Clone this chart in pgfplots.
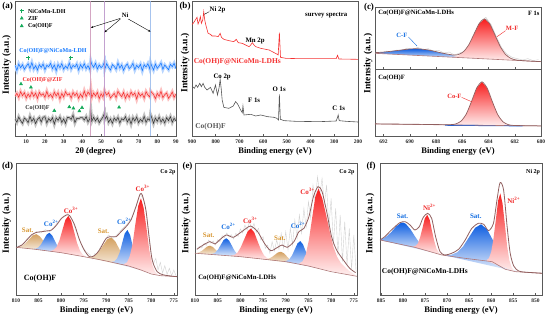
\documentclass[border=0pt]{standalone}
\usepackage{fontspec}
\setmainfont{Liberation Serif}
\usepackage{pgfplots}
\pgfplotsset{compat=1.18}
\usetikzlibrary{arrows.meta}
\definecolor{cred}{RGB}{248,30,30}
\definecolor{cblue}{RGB}{15,95,225}
\definecolor{ctan}{RGB}{212,160,95}
\definecolor{env}{RGB}{145,95,95}
\definecolor{bgl}{RGB}{175,120,120}
\definecolor{cgreen}{RGB}{20,170,90}
\definecolor{xblue}{RGB}{20,120,255}
\definecolor{xred}{RGB}{245,50,50}
\definecolor{xblk}{RGB}{55,55,55}
\definecolor{tred}{RGB}{240,40,40}
\definecolor{tblue}{RGB}{20,110,225}
\definecolor{ttan}{RGB}{215,150,50}
\definecolor{nia}{RGB}{205,150,185}
\definecolor{nib}{RGB}{185,145,200}
\definecolor{nic}{RGB}{150,185,235}
\pgfplotsset{
 panel/.style={
  scale only axis,
  axis line style={black!65, line width=0.6pt},
  tick style={black!65, line width=0.5pt},
  major tick length=2.2pt,
  tick align=inside,
  ytick=\empty,
  xtick pos=left,
  tick label style={font=\bfseries\fontsize{5.5}{6}\selectfont, text=black!85},
  /pgf/number format/assume math mode=true,
  /pgf/number format/1000 sep={},
  xlabel style={at={(axis description cs:0.5,0)}, anchor=north, yshift=-11pt, inner sep=0pt, font=\bfseries\fontsize{8.5}{9}\selectfont},
 },
 rev/.style={x dir=reverse},
}
\tikzset{
 ylab/.style={rotate=90, inner sep=0pt, font=\bfseries\fontsize{9.5}{10}\selectfont},
 plab/.style={inner sep=0pt, font=\bfseries\fontsize{9}{10}\selectfont},
 lb/.style={inner sep=0pt, font=\bfseries\fontsize{7}{8}\selectfont},
 sl/.style={inner sep=0pt, font=\bfseries\fontsize{6}{7}\selectfont},
}
\begin{document}
\begin{tikzpicture}[x=1pt,y=1pt]
\path[use as bounding box] (0,0) rectangle (550,321);

% ---------------- (a) XRD
\begin{axis}[panel, at={(15pt,185pt)}, anchor=south west, width=161pt, height=135pt,
 xmin=4, xmax=90, ymin=0, ymax=405, xtick={10,20,...,90}, xlabel={2θ (degree)}]
\addplot[xblk, line width=0.55pt, preaction={draw, xblk!30, line width=3.2pt}] coordinates {
(4,51)(5,41)(6,57)(7,46)(8,38)(9,54)(10,49)(11,40)(12,59)(13,44)(14,53)(15,37)(16,50)(17,56)(18,42)(19,56)(20,58)(21,39)(22,52)(23,45)(24,55)(25,36)(26,54)(27,47)(28,57)(29,41)(30,51)(31,38)(32,56)(33,55)(34,50)(35,63)(36,40)(37,53)(38,52)(39,55)(40,55)(41,48)(42,58)(43,42)(44,52)(44.5,75)(45,44)(46,56)(47,45)(48,54)(49,40)(50,49)(51,57)(51.8,68)(52,50)(53,60)(54,41)(55,51)(56,38)(57,54)(58,46)(59,56)(60,39)(61,52)(62,48)(63,58)(64,42)(65,53)(66,36)(67,55)(68,45)(69,57)(70,40)(71,50)(72,43)(73,59)(74,41)(75,52)(76,47)(76.4,64)(77,56)(78,38)(79,54)(80,44)(81,57)(82,42)(83,51)(84,39)(85,55)(86,46)(87,58)(88,41)(89,53)(90,45)};
\addplot[xred, line width=0.55pt, preaction={draw, xred!30, line width=3.2pt}] coordinates {
(4,120)(5,128)(6,116)(7,133)(8,121)(9,130)(10,114)(11,126)(12,117)(13,132)(14,119)(15,129)(16,113)(17,131)(18,122)(19,127)(20,116)(21,134)(22,118)(23,125)(24,115)(25,132)(26,120)(27,130)(28,111)(29,128)(30,117)(31,133)(32,123)(33,127)(34,114)(35,131)(36,121)(37,129)(38,113)(39,126)(40,116)(41,135)(42,118)(43,132)(44,124)(44.5,140)(45,115)(46,129)(47,120)(48,131)(49,112)(50,127)(51,117)(51.8,136)(52,133)(53,123)(54,130)(55,114)(56,121)(57,128)(58,115)(59,134)(60,125)(61,118)(62,131)(63,113)(64,126)(65,116)(66,132)(67,122)(68,129)(69,111)(70,130)(71,120)(72,127)(73,114)(74,133)(75,123)(76,117)(76.4,135)(77,131)(78,125)(79,112)(80,128)(81,119)(82,134)(83,115)(84,124)(85,129)(86,113)(87,121)(88,132)(89,116)(90,126)};
\addplot[xblue, line width=0.55pt, preaction={draw, xblue!30, line width=3.2pt}] coordinates {
(4,212)(5,197)(6,216)(7,205)(8,214)(9,200)(10,209)(11,217)(12,203)(13,220)(14,201)(15,211)(16,198)(17,214)(18,206)(19,216)(20,199)(21,212)(22,208)(23,218)(24,202)(25,213)(26,196)(27,215)(28,205)(29,217)(30,200)(31,210)(32,203)(33,219)(34,201)(35,212)(36,207)(37,216)(38,198)(39,214)(40,204)(41,217)(42,202)(43,211)(44,199)(44.5,225)(45,215)(46,206)(47,218)(48,201)(49,213)(50,205)(51,211)(51.8,222)(52,201)(53,217)(54,206)(55,198)(56,214)(57,209)(58,200)(59,219)(60,204)(61,213)(62,197)(63,210)(64,216)(65,202)(66,208)(67,218)(68,199)(69,212)(70,205)(71,215)(72,196)(73,214)(74,207)(75,217)(76,201)(76.4,220)(77,211)(78,198)(79,216)(80,203)(81,210)(82,219)(83,200)(84,213)(85,206)(86,199)(87,215)(88,208)(89,218)(90,202)};
\addplot[nia, line width=1.3pt, opacity=0.85] coordinates {(44.5,0)(44.5,405)};
\addplot[nib, line width=1.3pt, opacity=0.85] coordinates {(51.8,0)(51.8,405)};
\addplot[nic, line width=1.3pt, opacity=0.85] coordinates {(76.4,0)(76.4,405)};
\addplot[only marks, mark=+, mark size=2pt, cgreen, line width=1pt] coordinates {(11.1,235)(33.9,235)(7.6,375)};
\addplot[only marks, mark=triangle*, mark size=1.8pt, cgreen] coordinates {(7.2,156)(12.5,146)(25,76)(33,87)(35.2,83)(38.4,75)(39.8,85)(59.6,86)(7.6,353)(7.6,330)};
\node[sl, anchor=west] at (axis cs:10.9,375) {NiCoMn-LDH};
\node[sl, anchor=west] at (axis cs:10.9,353) {ZIF};
\node[sl, anchor=west] at (axis cs:10.9,330) {Co(OH)F};
\node[sl, text=xblue] at (axis cs:24.3,256) {Co(OH)F@NiCoMn-LDH};
\node[sl, text=xred] at (axis cs:18.7,167) {Co(OH)F@ZIF};
\node[sl, text=xblk] at (axis cs:16,83) {Co(OH)F};
\node[sl, font=\bfseries\fontsize{6.5}{7}\selectfont] at (axis cs:62.8,362) {Ni};
\draw[-{Stealth[length=2.5pt,width=2pt]}, line width=0.4pt] (axis cs:60.3,353) -- (axis cs:44.5,325);
\draw[-{Stealth[length=2.5pt,width=2pt]}, line width=0.4pt] (axis cs:60.3,351) -- (axis cs:51.8,311);
\draw[-{Stealth[length=2.5pt,width=2pt]}, line width=0.4pt] (axis cs:64.5,351) -- (axis cs:76.4,313);
\end{axis}

% ---------------- (b) survey
\begin{axis}[panel, rev, at={(192pt,185pt)}, anchor=south west, width=166pt, height=135pt,
 xmin=200, xmax=900, ymin=0, ymax=405, xtick={200,300,...,900}, xlabel={Binding energy (eV)}]
\addplot[xred, line width=0.6pt] coordinates {
(900,335)(892.9,340)(885.9,348)(878.8,356)(874.5,336)(868.9,346)(864.7,358)(860.4,338)(854.7,348)(850.5,373)(846.3,348)(840.6,330)(832.1,308)(822.2,305)(815.2,300)(801,300)(789.7,298)(781.2,308)(775.6,296)(765.7,290)(744.5,286)(723.3,283)(713.3,290)(704.9,280)(687.9,278)(673.8,273)(659.6,268)(652.5,273)(645.5,280)(638.4,273)(631.3,268)(610.1,263)(574.8,258)(553.6,250)(542.3,246)(536.6,243)(531.5,310)(526.7,236)(504.1,233)(447.5,232)(291.9,232)(286.3,242)(280.7,231)(200,230)};
\addplot[xblk!85, line width=0.6pt] coordinates {
(900,150)(890.1,143)(883,153)(876,146)(867.5,158)(860.4,148)(853.3,158)(846.3,146)(836.4,138)(822.2,146)(810.9,128)(801,153)(792.5,123)(785.5,146)(781.2,170)(777,143)(772.7,108)(765.7,86)(744.5,83)(726.1,90)(716.2,103)(707.7,96)(694.9,78)(687.9,70)(685.1,90)(680.8,63)(652.5,65)(631.3,60)(610.1,63)(581.9,58)(553.6,56)(542.3,53)(535.2,48)(531.5,125)(527.5,50)(511.1,46)(461.7,44)(362.7,43)(291.9,45)(286.3,56)(283.5,63)(279.2,46)(249.6,44)(200,42)};
\node[sl, font=\bfseries\fontsize{6.8}{7}\selectfont, anchor=west] at (axis cs:826,377) {Ni 2p};
\draw[line width=0.4pt] (axis cs:827,373) -- (axis cs:848,365);
\node[sl, font=\bfseries\fontsize{6.8}{7}\selectfont] at (axis cs:334,363) {survey spectra};
\node[sl, font=\bfseries\fontsize{6.8}{7}\selectfont] at (axis cs:634,286) {Mn 2p};
\node[sl, font=\bfseries\fontsize{7.5}{8}\selectfont, text=xred] at (axis cs:709,223) {Co(OH)F@NiCoMn-LDHs};
\node[sl, font=\bfseries\fontsize{6.8}{7}\selectfont] at (axis cs:773,176) {Co 2p};
\node[sl, font=\bfseries\fontsize{6.8}{7}\selectfont] at (axis cs:638,108) {F 1s};
\node[sl, font=\bfseries\fontsize{6.8}{7}\selectfont] at (axis cs:532,141) {O 1s};
\node[sl, font=\bfseries\fontsize{6.8}{7}\selectfont] at (axis cs:281,83) {C 1s};
\node[sl, font=\bfseries\fontsize{7.5}{8}\selectfont, text=black!65] at (axis cs:822,28) {Co(OH)F};
\end{axis}

% ---------------- (c) F 1s, top
\begin{axis}[panel, rev, at={(375pt,252pt)}, anchor=south west, width=166pt, height=62pt,
 xmin=680, xmax=692.65, ymin=201, ymax=387, xtick={680,682,...,692}, xticklabels={}]
\addplot[gray!40, line width=0.4pt] coordinates {(692.6,252)(692.2,249)(691.8,255)(691.4,252)(691,258)(690.6,256)(690.2,264)(689.8,258)(689.4,266)(689,259)(688.6,262)(688.2,255)(687.8,257)(687.4,249)(687,252)(686.6,243)(686.2,249)(685.8,254)(685.4,274)(685,312)(684.6,345)(684.2,356)(683.8,334)(683.4,298)(683,265)(682.6,246)(682.2,236)(681.8,232)(681.4,228)(681,232)(680.6,226)(680.2,229)};
\addplot[draw=none, top color=cblue, bottom color=cblue!10] coordinates {(692.6,248)(692.6,250.4)(692,251.6)(691,256.2)(690,261)(689.3,261.4)(688.5,257.4)(687.5,248.5)(686.5,240.2)(685.5,235.1)(684.5,232.1)(684.5,231.9)} --cycle;
\addplot[draw=none, top color=cred, bottom color=cred!8] coordinates {(681.5,226.0)(681.5,226.3)(681.9,228.1)(682.3,232.8)(682.7,244.5)(683.1,267.9)(683.5,302.4)(683.9,336.2)(684.3,351)(684.7,337.8)(685.1,305.6)(685.5,272.7)(685.9,250.9)(686.3,240.7)(686.7,237.6)(687.1,237.4)(687.1,237.1)} --cycle;
\addplot[bgl, line width=0.6pt] coordinates {(692.65,248)(680,223)};
\addplot[env, line width=0.7pt, smooth, tension=0.4] coordinates {(692.6,250.4)(692,251.6)(691,256.2)(690,261)(689.3,261.4)(688.5,257.4)(687.5,248.5)(686.7,242.9)(686.3,244.1)(685.9,253)(685.5,273.9)(685.1,306.3)(684.7,338.1)(684.3,351.2)(683.9,336.2)(683.5,302.4)(683.1,267.9)(682.7,244.5)(682.3,232.8)(681.9,228.1)(681.5,226.3)(681,225)(680,223)};
\node[sl, font=\bfseries\fontsize{6.5}{7}\selectfont, anchor=west] at (axis cs:692.4,368) {Co(OH)F@NiCoMn-LDHs};
\node[sl, font=\bfseries\fontsize{6.5}{7}\selectfont, anchor=east] at (axis cs:680.1,368) {F 1s};
\node[sl, font=\bfseries\fontsize{6.5}{7}\selectfont, text=tblue] at (axis cs:690.6,303) {C-F};
\draw[tblue, line width=0.4pt] (axis cs:690.1,297) -- (axis cs:689.45,270);
\node[sl, font=\bfseries\fontsize{6.5}{7}\selectfont, text=tred] at (axis cs:682.2,323) {M-F};
\draw[tred, line width=0.4pt] (axis cs:682.7,316) -- (axis cs:683.35,298);
\end{axis}

% ---------------- (c) F 1s, bottom
\begin{axis}[panel, rev, at={(375pt,185pt)}, anchor=south west, width=166pt, height=67pt,
 xmin=680, xmax=692.65, ymin=0, ymax=201, xtick={680,682,...,692}, xlabel={Binding energy (eV)}]
\addplot[draw=none, top color=cred, bottom color=cred!8] coordinates {(682.1,31.0)(682.1,31.5)(682.5,34)(682.9,42.5)(683.3,64.1)(683.7,102.1)(684.1,143.4)(684.5,162.1)(684.9,143.7)(685.3,102.8)(685.7,65.2)(686.1,44)(686.5,35.9)(686.9,33.8)(686.9,33.3)} --cycle;
\addplot[cblue, line width=1pt] coordinates {(687.3,32.3)(681.4,30.4)};
\addplot[bgl, line width=0.6pt] coordinates {(692.65,36)(680,30)};
\addplot[env, line width=0.7pt, smooth, tension=0.4] coordinates {(692.65,36.5)(690,35.3)(688,34.3)(686.9,34)(686.5,36.2)(686.1,44.3)(685.7,65.5)(685.3,103)(684.9,144)(684.5,162.5)(684.1,143.6)(683.7,102.3)(683.3,64.3)(682.9,42.7)(682.5,34.2)(682.1,31.7)(681,30.8)(680,30.3)};
\node[sl, font=\bfseries\fontsize{6.5}{7}\selectfont, anchor=west] at (axis cs:692.4,175) {Co(OH)F};
\node[sl, font=\bfseries\fontsize{6.5}{7}\selectfont, text=tred] at (axis cs:686.6,118) {Co-F};
\draw[tred, line width=0.4pt] (axis cs:686.05,116) -- (axis cs:685.3,103);
\end{axis}

% ---------------- (d) Co 2p Co(OH)F
\begin{axis}[panel, rev, at={(16pt,26pt)}, anchor=south west, width=161pt, height=132pt,
 xmin=774.3, xmax=810, ymin=0, ymax=396, xtick={775,780,...,810}, xlabel={Binding energy (eV)}]
\addplot[gray!35, line width=0.4pt] coordinates {(809.5,147)(808.5,150)(807.5,170)(806.5,178)(805.5,190)(804.5,186)(803.5,196)(802.5,190)(801.5,205)(800.5,222)(799.5,236)(798.5,244)(797.5,226)(796.5,185)(795.5,152)(794.5,130)(793.5,120)(793,108)(792.5,125)(792,112)(791.5,138)(790.5,160)(789.5,180)(788.5,170)(787.5,182)(786.5,198)(785.5,210)(784.5,228)(783.5,262)(782.5,305)(781.5,280)(781,240)(780.5,180)(780,120)(779.5,95)(779,110)(778.5,75)(778,98)(777.5,66)(777,88)(776.5,62)(776,80)(775.5,58)(775,75)(774.5,57)};
\addplot[draw=none, top color=ctan, bottom color=ctan!12] coordinates {(809.5,142.3)(809.5,144.3)(808.7,147.4)(807.9,155.0)(807.1,166.9)(806.3,178.5)(805.5,182.6)(804.7,175.8)(803.9,161.7)(803.1,147.3)(802.3,137.2)(801.5,131.6)(801.5,129.6)} --cycle;
\addplot[draw=none, top color=cblue, bottom color=cblue!10] coordinates {(806.2,137.8)(806.2,138.4)(805.6,139.2)(805.0,143.2)(804.4,152.6)(803.8,167.1)(803.2,181.1)(802.6,186.6)(802.0,179.0)(801.4,162.9)(800.8,146.3)(800.2,134.8)(799.6,128.4)(799.0,125.2)(799.0,124.6)} --cycle;
\addplot[draw=none, top color=cred, bottom color=cred!8] coordinates {(802.3,131.0)(802.3,132.3)(801.65,134.9)(801.0,144.2)(800.35,164.6)(799.7,195.4)(799.05,225.3)(798.4,237.2)(797.75,222.2)(797.1,189.1)(796.45,155.5)(795.8,132.3)(795.15,120.4)(794.5,115.1)(794.5,113.8)} --cycle;
\addplot[draw=none, top color=ctan, bottom color=ctan!12] coordinates {(794.3,113.3)(794.3,114.1)(793.4,114.2)(792.5,118.8)(791.6,130.4)(790.7,148.8)(789.8,166.7)(788.9,172.7)(788.0,161.3)(787.1,138.2)(786.2,114.6)(785.3,97.9)(784.4,87.5)(783.5,81.1)(783.5,80.3)} --cycle;
\addplot[draw=none, top color=cblue, bottom color=cblue!10] coordinates {(788.75,98.3)(788.75,99.5)(788.15,101.2)(787.6,109.3)(787.0,127.7)(786.45,156.3)(785.9,184.1)(785.3,194.9)(784.7,180.1)(784.15,148.2)(783.6,115.5)(783.0,92.6)(782.45,80.4)(781.85,73.9)(781.85,72.7)} --cycle;
\addplot[draw=none, top color=cred, bottom color=cred!8] coordinates {(786.05,90.1)(786.05,92.5)(785.4,97.6)(784.8,115.2)(784.15,153.1)(783.55,211.0)(782.9,267.4)(782.3,290.0)(781.7,261.6)(781.05,198.9)(780.45,135.1)(779.8,91.6)(779.2,70.4)(778.55,61.8)(778.55,59.4)} --cycle;
\addplot[bgl, line width=0.6pt] coordinates {(810,143)(806,137.5)(800,127)(795,115)(792,107.5)(790,102)(785,87)(782.3,75)(780,63)(778,58)(774.3,55)};
\addplot[env, line width=0.8pt, smooth, tension=0.45] coordinates {(809.8,143)(808.7,150)(807.6,165)(806.5,181)(805.4,188)(804.3,190)(803.2,192)(802.1,195)(801,210)(799.9,230)(798.8,240)(798.1,238)(797,210)(795.9,165)(794.8,133)(793.7,115)(792.6,118)(791.5,135)(790,170)(788.9,175)(787.8,175)(786.7,190)(785.6,205)(784.5,225)(783.4,265)(782.5,302)(782,300)(781.2,255)(780.5,175)(779.8,105)(778.7,70)(777.2,60)(774.3,55)};
\node[lb, text=ttan] at (axis cs:807.4,195) {Sat.};
\node[lb, text=tblue] at (axis cs:802.2,215) {Co\textsuperscript{2+}};
\node[lb, text=tred] at (axis cs:797.8,255) {Co\textsuperscript{3+}};
\node[lb, text=ttan] at (axis cs:790.6,190) {Sat.};
\node[lb, text=tblue] at (axis cs:786.0,222) {Co\textsuperscript{2+}};
\node[lb, text=tred] at (axis cs:781.9,320) {Co\textsuperscript{3+}};
\node[sl, anchor=east] at (axis cs:774.6,370) {Co 2p};
\node[sl, font=\bfseries\fontsize{8}{9}\selectfont, anchor=west] at (axis cs:808.3,50) {Co(OH)F};
\end{axis}

% ---------------- (e) Co 2p composite
\begin{axis}[panel, rev, at={(195pt,26pt)}, anchor=south west, width=162pt, height=132pt,
 xmin=774.3, xmax=810, ymin=0, ymax=396, xtick={775,780,...,810}, xlabel={Binding energy (eV)}]
\addplot[gray!35, line width=0.4pt] coordinates {(809.5,140)(809,146)(808.5,141)(808,155)(807.5,149)(807,165)(806.5,155)(806,162)(805.5,150)(805,166)(804.5,160)(804,178)(803.5,172)(803,186)(802.5,174)(802,181)(801.5,168)(801,185)(800.5,176)(800,198)(799.5,186)(799,210)(798.5,195)(798,220)(797.5,196)(797,215)(796.5,188)(796,200)(795.5,165)(795,175)(794.5,140)(794,150)(793.5,125)(793,160)(792.5,132)(792,165)(791.5,138)(791,185)(790.5,140)(790,190)(789.5,135)(789,200)(788.5,150)(788,225)(787.5,170)(787,240)(786.5,185)(786,260)(785.5,200)(785,280)(784.5,230)(784,330)(783.5,280)(783,355)(782.5,300)(782,350)(781.5,270)(781,330)(780.5,200)(780,290)(779.5,150)(779,260)(778.5,120)(778,240)(777.5,100)(777,220)(776.5,90)(776,200)(775.5,78)(775,180)(774.5,70)};
\addplot[draw=none, top color=ctan, bottom color=ctan!12] coordinates {(809.7,125.0)(809.7,126.1)(809.1,127.9)(808.5,132.2)(807.9,138.9)(807.3,145.4)(806.7,147.9)(806.1,144.2)(805.5,136.5)(804.9,128.4)(804.3,122.9)(803.7,119.9)(803.7,118.8)} --cycle;
\addplot[draw=none, top color=cblue, bottom color=cblue!10] coordinates {(806.7,121.9)(806.7,122.5)(806.1,123.6)(805.5,127.7)(804.9,136.9)(804.3,150.9)(803.7,164.7)(803.1,170.2)(802.5,163.5)(801.9,148.5)(801.3,133.2)(800.7,122.7)(800.1,117.4)(799.5,114.9)(799.5,114.3)} --cycle;
\addplot[draw=none, top color=cred, bottom color=cred!8] coordinates {(802.05,117.1)(802.05,118.1)(801.3,120.2)(800.6,127.5)(799.9,143.5)(799.15,167.1)(798.4,190.3)(797.7,199.6)(796.95,188.1)(796.25,162.8)(795.5,136.9)(794.8,119.1)(794.05,110.0)(793.35,106.0)(793.35,105.0)} --cycle;
\addplot[draw=none, top color=ctan, bottom color=ctan!12] coordinates {(795.0,107.5)(795.0,107.8)(794.35,107.7)(793.7,109.4)(793.05,113.7)(792.4,120.6)(791.75,127.3)(791.1,129.7)(790.45,125.4)(789.8,116.5)(789.15,106.9)(788.5,99.9)(787.85,95.6)(787.2,93.0)(787.2,92.7)} --cycle;
\addplot[draw=none, top color=cblue, bottom color=cblue!10] coordinates {(790.4,100.6)(790.4,101.4)(789.8,102.6)(789.2,107.4)(788.6,119.1)(788.0,137.3)(787.4,155.0)(786.8,161.7)(786.2,151.9)(785.6,131.1)(785.0,109.7)(784.4,94.5)(783.8,86.0)(783.2,81.7)(783.2,80.9)} --cycle;
\addplot[draw=none, top color=cred, bottom color=cred!6] coordinates {(787.0,92.2)(787.0,94.9)(786.3,100.9)(785.6,121.1)(784.9,164.6)(784.2,229.9)(783.5,293.7)(782.8,319.5)(781.95,290)(781.1,240)(780.3,190)(779.5,145)(778.7,115)(777.9,97)(777.0,84)(776.0,72)(775.0,63)(774.4,57)(774.4,56.2)} --cycle;
\addplot[bgl, line width=0.6pt] coordinates {(810,125.3)(800,115)(790,100)(785,87)(780,70)(774.3,56)};
\addplot[env, line width=0.8pt, smooth, tension=0.45] coordinates {(809.6,137)(808.2,150)(806.7,160)(805.6,153)(804.6,165)(803.1,180)(801.6,173)(800.2,185)(798.7,200)(797.7,207)(796.2,190)(794.7,155)(793.3,133)(791.8,143)(790.8,150)(789.7,143)(788.2,160)(787.1,190)(786,200)(784.9,235)(783.9,295)(782.9,325)(782,310)(780.9,245)(779.9,175)(778.8,135)(777.3,105)(775.9,80)(774.6,67)};
\node[lb, text=ttan] at (axis cs:807.0,180) {Sat.};
\node[lb, text=tblue] at (axis cs:802.6,205) {Co\textsuperscript{2+}};
\node[lb, text=tred] at (axis cs:797.8,225) {Co\textsuperscript{3+}};
\node[lb, text=ttan] at (axis cs:791.3,170) {Sat.};
\node[lb, text=tblue] at (axis cs:787.3,208) {Co\textsuperscript{2+}};
\node[lb, text=tred] at (axis cs:785.2,310) {Co\textsuperscript{3+}};
\node[sl, anchor=east] at (axis cs:774.8,370) {Co 2p};
\node[sl, font=\bfseries\fontsize{6.7}{7}\selectfont, anchor=west] at (axis cs:809.3,50) {Co(OH)F@NiCoMn-LDHs};
\end{axis}

% ---------------- (f) Ni 2p
\begin{axis}[panel, rev, at={(380pt,26pt)}, anchor=south west, width=162pt, height=132pt,
 xmin=848.5, xmax=885.2, ymin=0, ymax=396, xtick={850,855,...,885}, xlabel={Binding energy (eV)}]
\addplot[draw=none, top color=cblue, bottom color=cblue!10] coordinates {(885.0,164.4)(885.0,166.0)(883.75,175.4)(882.65,188.6)(881.55,205.4)(880.45,216.7)(879.9,217.2)(879.35,213.6)(878.25,196.2)(877.15,173.1)(876.05,152.8)(874.95,139.5)(873.85,131.6)(872.75,126.1)(872.75,125.8)} --cycle;
\addplot[draw=none, top color=cred, bottom color=cred!8] coordinates {(877.7,144.1)(877.7,145.3)(877.15,147.1)(876.6,154.9)(876.1,173.6)(875.55,201.9)(875.05,229.8)(874.5,240.4)(873.95,225.7)(873.45,194.0)(872.9,161.5)(872.4,139.1)(871.85,127.2)(871.3,121.6)(871.3,120.4)} --cycle;
\addplot[draw=none, top color=cblue, bottom color=cblue!10] coordinates {(870.4,118.5)(870.4,119.7)(869.05,120.7)(867.7,128.0)(866.35,146.0)(865.0,174.0)(863.65,201.6)(862.3,212.1)(860.95,197.2)(859.6,164.0)(858.25,123.3)(856.9,92.4)(855.55,77.9)(854.2,71.0)(854.2,69.8)} --cycle;
\addplot[draw=none, top color=cred, bottom color=cred!8] coordinates {(861.05,102.1)(861.05,104.5)(860.5,110.7)(860.0,129.9)(859.5,168.8)(858.95,226.3)(858.45,282.9)(857.95,304.8)(857.45,275.3)(856.9,210.6)(856.4,146.9)(855.9,103.9)(855.35,82.2)(854.85,73.5)(854.85,71.1)} --cycle;
\addplot[bgl, line width=0.6pt] coordinates {(885.2,165)(877.3,143)(871.2,120)(865.9,110)(859.8,100)(856.8,77)(854.5,70)(848.5,65)};
\addplot[env, line width=0.8pt, smooth, tension=0.45] coordinates {(885.2,165)(884.1,175)(883,190)(881.8,205)(880.7,217)(879.5,220)(878.4,210)(877.3,195)(876.3,205)(875.4,233)(874.4,245)(873.5,230)(872.6,175)(871.6,130)(870.5,120)(869,125)(867.4,137)(865.9,165)(864.4,200)(862.9,215)(861.7,212)(860.6,193)(859.5,215)(858.7,285)(858,337)(857.2,315)(856.4,205)(855.7,125)(854.9,87)(853.8,72)(852.3,68.5)(848.5,65.3)};
\node[lb, text=tblue] at (axis cs:880.1,237) {Sat.};
\node[lb, text=tred] at (axis cs:874.0,263) {Ni\textsuperscript{2+}};
\node[lb, text=tblue] at (axis cs:863.5,237) {Sat.};
\node[lb, text=tred] at (axis cs:854.9,285) {Ni\textsuperscript{2+}};
\node[sl, anchor=east] at (axis cs:848.9,370) {Ni 2p};
\node[sl, font=\bfseries\fontsize{7.4}{8}\selectfont, anchor=west] at (axis cs:884.8,70) {Co(OH)F@NiCoMn-LDHs};
\end{axis}

% axis titles and panel letters
\node[ylab] at (6.7,256) {Intensity (a.u.)};
\node[ylab] at (185,258) {Intensity (a.u.)};
\node[ylab] at (368,257.5) {Intensity (a.u.)};
\node[ylab] at (6.7,97.5) {Intensity (a.u.)};
\node[ylab] at (186,97.5) {Intensity (a.u.)};
\node[ylab] at (370,97.5) {Intensity (a.u.)};
\node[plab] at (7.5,315) {(a)};
\node[plab] at (185,315) {(b)};
\node[plab] at (369,314) {(c)};
\node[plab] at (7.5,154.3) {(d)};
\node[plab] at (187.5,154.3) {(e)};
\node[plab] at (371,154.3) {(f)};
\end{tikzpicture}
\end{document}
